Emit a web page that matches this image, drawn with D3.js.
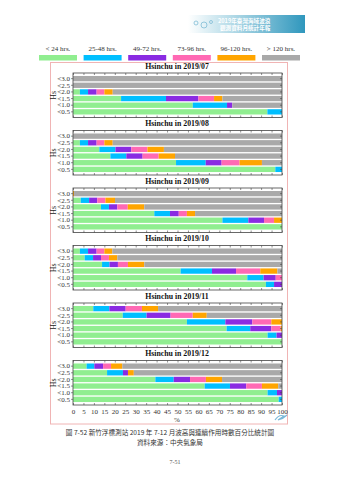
<!DOCTYPE html>
<html>
<head>
<meta charset="utf-8">
<script src="https://d3js.org/d3.v7.min.js"></script>
<style>
  body { margin: 0; background: #fff; }
  svg { display: block; }
</style>
</head>
<body>
<div id="chart"></div>
<script>
// wave height classes (rows, top to bottom)
const hsClasses = ['<3.0', '<2.5', '<2.0', '<1.5', '<1.0', '<0.5'];
// duration classes (stack order, left to right)
const durations = ['< 24 hrs.', '25-48 hrs.', '49-72 hrs.', '73-96 hrs.', '96-120 hrs.', '> 120 hrs.'];
const durationColors = ['#90ee90', '#00bfff', '#8a2be2', '#ff69b4', '#ffa500', '#a9a9a9'];
const months = ['2019/07', '2019/08', '2019/09', '2019/10', '2019/11', '2019/12'];
const xTicks = [0, 5, 10, 15, 20, 25, 30, 35, 40, 45, 50, 55, 60, 65, 70, 75, 80, 85, 90, 95, 100];

// percentage per duration class, one row per Hs class
const jul = [
    [0, 0, 0, 0, 0, 100],
    [0, 0, 0, 0, 0, 100],
    [3.3, 3.9, 4.1, 3.7, 4.0, 81.0],
    [23.0, 21.5, 15.5, 7.5, 4.0, 28.5],
    [57.3, 16.4, 2.5, 0, 0, 23.8],
    [93.0, 7.0, 0, 0, 0, 0]
];
const aug = [
    [0, 0, 0, 0, 0, 100],
    [3.3, 3.9, 4.1, 3.7, 4.0, 81.0],
    [12.6, 7.7, 7.6, 7.7, 7.9, 56.5],
    [17.9, 7.6, 7.8, 7.7, 7.8, 51.2],
    [49.3, 14.2, 7.6, 8.6, 10.7, 9.6],
    [96.8, 3.2, 0, 0, 0, 0]
];
const sep = [
    [0, 0, 0, 0, 0.5, 99.5],
    [3.7, 4.0, 3.9, 3.9, 4.6, 79.9],
    [13.4, 3.8, 4.0, 5.0, 7.9, 65.9],
    [38.9, 7.5, 4.2, 3.9, 3.9, 41.6],
    [71.5, 12.4, 7.5, 4.8, 3.8, 0],
    [100, 0, 0, 0, 0, 0]
];
const oct = [
    [3.3, 3.9, 4.1, 3.7, 3.8, 81.2],
    [5.6, 4.0, 3.8, 3.8, 4.0, 78.8],
    [13.9, 3.6, 4.0, 4.8, 7.8, 65.9],
    [51.5, 15.0, 11.5, 11.6, 8.2, 2.2],
    [83.4, 7.8, 5.8, 3.0, 0, 0],
    [92.3, 3.9, 3.8, 0, 0, 0]
];
const nov = [
    [9.7, 7.7, 7.8, 7.8, 7.7, 59.3],
    [23.8, 11.4, 11.5, 10.6, 6.7, 36.0],
    [54.5, 18.4, 12.9, 9.1, 5.1, 0],
    [73.5, 11.3, 10.1, 4.5, 0.6, 0],
    [93.1, 4.3, 2.6, 0, 0, 0],
    [100, 0, 0, 0, 0, 0]
];
const dec = [
    [6.5, 3.7, 4.2, 3.8, 5.4, 76.4],
    [16.3, 7.6, 2.4, 0, 2.8, 70.9],
    [39.4, 8.8, 7.8, 7.6, 7.7, 28.7],
    [63.0, 12.1, 7.8, 7.5, 7.8, 1.8],
    [93.1, 4.5, 2.4, 0, 0, 0],
    [98.4, 1.6, 0, 0, 0, 0]
];
const monthData = [jul, aug, sep, oct, nov, dec];

const width = 339, height = 480;
const serif = '"Liberation Serif", "Times New Roman", serif';
const cjk = '"Noto Sans CJK TC", "Noto Sans CJK SC", sans-serif';

const svg = d3.select('#chart').append('svg')
    .attr('width', width)
    .attr('height', height);

svg.append('rect').attr('width', width).attr('height', height).attr('fill', '#fff');

// --- report banner (top right)
const defs = svg.append('defs');
const grad = defs.append('linearGradient').attr('id', 'banner');
grad.append('stop').attr('offset', '0%').attr('stop-color', '#ffffff');
grad.append('stop').attr('offset', '35%').attr('stop-color', '#b9dde9');
grad.append('stop').attr('offset', '100%').attr('stop-color', '#2f97bd');

const banner = svg.append('g');
banner.append('rect')
    .attr('x', 188).attr('y', 15).attr('width', 117).attr('height', 18)
    .attr('fill', 'url(#banner)');
[[196, 23, 2], [204, 25, 3], [211, 22, 1.5]].forEach(([cx, cy, r]) => {
    banner.append('circle').attr('cx', cx).attr('cy', cy).attr('r', r)
        .attr('fill', 'none').attr('stroke', '#7fbcd6').attr('stroke-width', 0.8);
});
banner.append('text').attr('x', 218).attr('y', 22.5)
    .attr('font-family', cjk).attr('font-size', 5.6).attr('fill', '#fff')
    .attr('font-weight', 'bold').text('2019年臺灣海域波浪');
banner.append('text').attr('x', 220).attr('y', 30)
    .attr('font-family', cjk).attr('font-size', 5.6).attr('fill', '#fff')
    .attr('font-weight', 'bold').text('觀測資料月統計年報');

// --- scales
const x = d3.scaleLinear().domain([0, 100]).range([73, 282]);
const color = d3.scaleOrdinal().domain(durations).range(durationColors);

// --- legend
const legendX = d3.scalePoint().domain(durations).range([58, 281]);
const legend = svg.append('g');
durations.forEach(d => {
    const cx = legendX(d);
    legend.append('text')
        .attr('x', cx).attr('y', 50.5)
        .attr('text-anchor', 'middle')
        .attr('font-family', serif).attr('font-size', 7).attr('fill', '#333')
        .text(d);
    legend.append('rect')
        .attr('x', cx - 19).attr('y', 55).attr('width', 38).attr('height', 5.5)
        .attr('fill', color(d));
});

// --- outer pink frame
svg.append('rect')
    .attr('x', 50.5).attr('y', 62.5).attr('width', 237).attr('height', 361.5)
    .attr('fill', 'none').attr('stroke', '#f0b4b4').attr('stroke-width', 1);

// --- panels
const panelTop = 73, panelStep = 57.5, panelH = 44.5;
const stack = d3.stack().keys(d3.range(durations.length));

monthData.forEach((rows, i) => {
    const top = panelTop + panelStep * i;
    const y = d3.scaleBand().domain(hsClasses)
        .range([top, top + panelH]).paddingInner(0.2).paddingOuter(0.45);
    const g = svg.append('g');

    g.append('text')
        .attr('x', 177).attr('y', top - 4.5)
        .attr('text-anchor', 'middle')
        .attr('font-family', serif).attr('font-size', 7.8).attr('font-weight', 'bold')
        .attr('fill', '#111')
        .text('Hsinchu in ' + months[i]);

    const series = stack(rows);
    g.selectAll('g.layer')
        .data(series)
        .enter().append('g')
        .attr('fill', (d, k) => durationColors[k])
        .selectAll('rect')
        .data(d => d)
        .enter().append('rect')
        .attr('x', d => x(d[0]))
        .attr('y', (d, j) => y(hsClasses[j]))
        .attr('width', d => Math.max(0, x(d[1]) - x(d[0])))
        .attr('height', y.bandwidth());

    // frame
    g.append('rect')
        .attr('x', 73).attr('y', top).attr('width', 209).attr('height', panelH)
        .attr('fill', 'none').attr('stroke', '#444').attr('stroke-width', 0.8);

    // top & bottom inward ticks
    g.append('g')
        .attr('transform', `translate(0,${top})`)
        .call(d3.axisBottom(x).tickValues(xTicks).tickSize(2).tickFormat(''))
        .call(a => a.select('.domain').remove())
        .selectAll('line').attr('stroke', '#444').attr('stroke-width', 0.6);
    const bottomAxis = g.append('g')
        .attr('transform', `translate(0,${top + panelH})`)
        .call(d3.axisTop(x).tickValues(xTicks).tickSize(2).tickFormat(''))
        .call(a => a.select('.domain').remove());
    bottomAxis.selectAll('line').attr('stroke', '#444').attr('stroke-width', 0.6);

    // left axis
    g.append('g')
        .attr('transform', 'translate(73,0)')
        .call(d3.axisLeft(y).tickSize(2).tickPadding(1))
        .call(a => a.select('.domain').remove())
        .call(a => a.selectAll('line').attr('stroke', '#444').attr('stroke-width', 0.6))
        .call(a => a.selectAll('text')
            .attr('font-family', serif).attr('font-size', 7).attr('fill', '#333'));

    // right inward ticks
    g.append('g')
        .attr('transform', 'translate(282,0)')
        .call(d3.axisRight(y).tickSize(-2).tickFormat(''))
        .call(a => a.select('.domain').remove())
        .selectAll('line').attr('stroke', '#444').attr('stroke-width', 0.6);

    g.append('text')
        .attr('transform', `translate(56,${top + panelH / 2}) rotate(-90)`)
        .attr('text-anchor', 'middle')
        .attr('font-family', serif).attr('font-size', 8).attr('fill', '#222')
        .text('Hs');

    if (i === monthData.length - 1) {
        g.append('g')
            .attr('transform', `translate(0,${top + panelH})`)
            .call(d3.axisBottom(x).tickValues(xTicks).tickSize(0).tickPadding(4))
            .call(a => a.select('.domain').remove())
            .selectAll('text')
            .attr('font-family', serif).attr('font-size', 7).attr('fill', '#333');
        g.append('text')
            .attr('x', 177).attr('y', top + panelH + 17)
            .attr('text-anchor', 'middle')
            .attr('font-family', serif).attr('font-size', 7).attr('fill', '#333')
            .text('%');
    }
});

// small logo mark near bottom right of the frame
svg.append('path')
    .attr('d', 'M275,420 q4,-6 9,-4 q-3,2 -6,4 q5,-1 9,-5')
    .attr('fill', 'none').attr('stroke', '#7ab8d8').attr('stroke-width', 1.2);

// --- captions
svg.append('text')
    .attr('x', 170).attr('y', 434.5)
    .attr('text-anchor', 'middle')
    .attr('font-family', cjk).attr('font-size', 6.6).attr('fill', '#333')
    .text('圖 7-52 新竹浮標測站 2019 年 7-12 月波高與連續作用時數百分比統計圖');
svg.append('text')
    .attr('x', 170).attr('y', 445)
    .attr('text-anchor', 'middle')
    .attr('font-family', cjk).attr('font-size', 6.6).attr('fill', '#333')
    .text('資料來源：中央氣象局');
svg.append('text')
    .attr('x', 175).attr('y', 464)
    .attr('text-anchor', 'middle')
    .attr('font-family', serif).attr('font-size', 6).attr('fill', '#555')
    .text('7-51');
</script>
</body>
</html>
